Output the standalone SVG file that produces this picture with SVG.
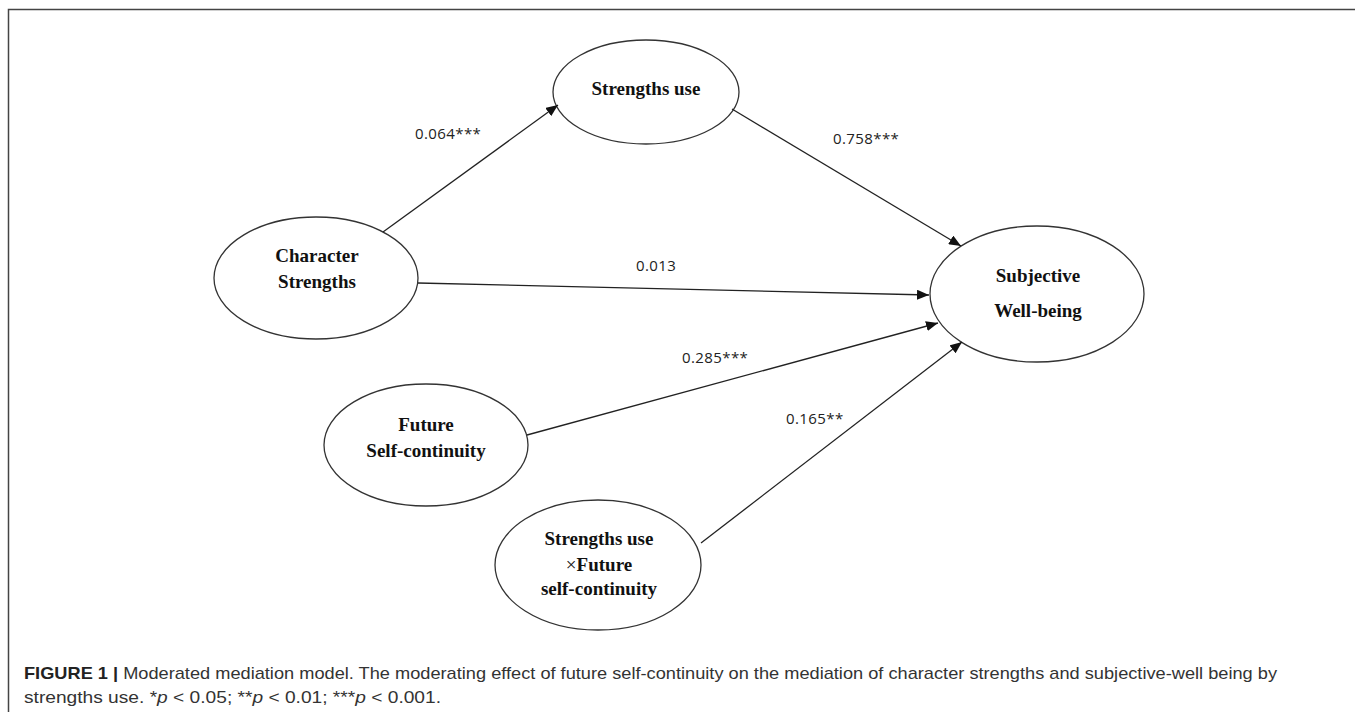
<svg xmlns="http://www.w3.org/2000/svg" width="1355" height="712" viewBox="0 0 1355 712">
<style>
.node ellipse{fill:#fff;stroke:#333;stroke-width:1.3}
.node text{font-family:"Liberation Serif","DejaVu Serif",serif;font-weight:bold;font-size:19px;fill:#111;text-anchor:middle}
.edges line{stroke:#222;stroke-width:1.3;marker-end:url(#arr)}
.lbl{font-family:"Open Sans","Liberation Sans",sans-serif;font-size:15px;fill:#222;letter-spacing:0.4px}
.cap{font-family:"Liberation Sans",Arial,sans-serif;font-size:17px;fill:#333}
</style>
<defs>
<marker id="arr" viewBox="0 0 12 10" refX="12" refY="5" markerWidth="12" markerHeight="10" markerUnits="userSpaceOnUse" orient="auto">
<path d="M0,0 L12,5 L0,10 z" fill="#111"/>
</marker>
</defs>
<rect x="0" y="0" width="1355" height="712" fill="#fff"/>
<path d="M8.5,712 V9.5 H1355" fill="none" stroke="#444" stroke-width="1.5"/>
<g id="n-strengths-use" class="node">
<ellipse cx="646" cy="92" rx="93" ry="52"/>
<text x="646" y="95">Strengths use</text>
</g>
<g id="n-character" class="node">
<ellipse cx="316" cy="278" rx="102" ry="61"/>
<text x="317" y="262">Character</text>
<text x="317" y="288">Strengths</text>
</g>
<g id="n-swb" class="node">
<ellipse cx="1037" cy="294" rx="107" ry="68"/>
<text x="1038" y="282">Subjective</text>
<text x="1038" y="317">Well-being</text>
</g>
<g id="n-future" class="node">
<ellipse cx="426" cy="445" rx="102" ry="61"/>
<text x="426" y="431">Future</text>
<text x="426" y="457">Self-continuity</text>
</g>
<g id="n-interaction" class="node">
<ellipse cx="598" cy="565" rx="103" ry="65"/>
<text x="599" y="545">Strengths use</text>
<text x="599" y="571"><tspan font-weight="normal">×</tspan>Future</text>
<text x="599" y="595">self-continuity</text>
</g>
<g class="edges">
<line x1="383" y1="232" x2="558" y2="105"/>
<line x1="732" y1="109" x2="961" y2="246"/>
<line x1="418" y1="283" x2="929" y2="295"/>
<line x1="527" y1="435" x2="938" y2="323"/>
<line x1="701" y1="543" x2="962" y2="342"/>
</g>
<g id="labels">
<text class="lbl" x="415" y="139">0.064***</text>
<text class="lbl" x="833" y="144">0.758***</text>
<text class="lbl" x="636" y="271">0.013</text>
<text class="lbl" x="682" y="363">0.285***</text>
<text class="lbl" x="786" y="424">0.165**</text>
</g>
<g id="caption">
<text class="cap" x="24" y="679" textLength="1253" lengthAdjust="spacingAndGlyphs"><tspan font-weight="bold" fill="#222">FIGURE 1 | </tspan>Moderated mediation model. The moderating effect of future self-continuity on the mediation of character strengths and subjective-well being by</text>
<text class="cap" x="24" y="703" textLength="417" lengthAdjust="spacingAndGlyphs">strengths use. *<tspan font-style="italic">p</tspan> &lt; 0.05; **<tspan font-style="italic">p</tspan> &lt; 0.01; ***<tspan font-style="italic">p</tspan> &lt; 0.001.</text>
</g>
</svg>
